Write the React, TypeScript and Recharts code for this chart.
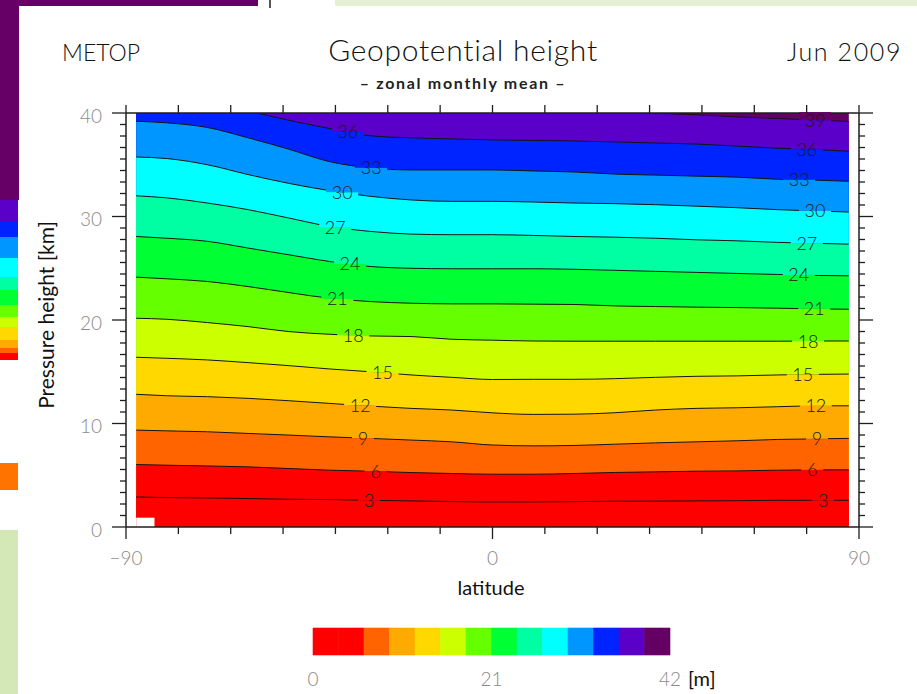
import React from 'react';
import {
  ComposedChart,
  Area,
  XAxis,
  YAxis,
  ReferenceDot,
  ReferenceArea,
  BarChart,
  Bar,
} from 'recharts';

// latitude grid (deg)
const LATITUDES = [-87.5, -80, -70, -60, -50, -40, -30, -20, -10, 0, 10, 20, 30, 40, 50, 60, 70, 80, 87.5];

// pressure height [km] of each geopotential contour along the grid
const Z3 = [2.9, 2.84, 2.81, 2.75, 2.68, 2.65, 2.58, 2.52, 2.46, 2.42, 2.43, 2.45, 2.49, 2.5, 2.52, 2.54, 2.58, 2.58, 2.58];
const Z6 = [6.04, 5.97, 5.9, 5.81, 5.65, 5.49, 5.39, 5.26, 5.17, 5.1, 5.1, 5.17, 5.27, 5.33, 5.39, 5.42, 5.49, 5.52, 5.52];
const Z9 = [9.36, 9.29, 9.2, 9.04, 8.88, 8.71, 8.56, 8.4, 8.23, 7.92, 7.84, 7.88, 8.0, 8.13, 8.23, 8.33, 8.46, 8.52, 8.56];
const Z12 = [12.82, 12.68, 12.59, 12.43, 12.2, 11.94, 11.68, 11.46, 11.3, 11.03, 10.88, 10.9, 11.04, 11.3, 11.46, 11.52, 11.62, 11.71, 11.71];
const Z15 = [16.4, 16.3, 16.14, 15.88, 15.59, 15.27, 15.0, 14.69, 14.46, 14.25, 14.27, 14.27, 14.33, 14.46, 14.56, 14.6, 14.69, 14.75, 14.78];
const Z18 = [20.17, 20.07, 19.75, 19.36, 18.88, 18.62, 18.46, 18.4, 18.14, 18.05, 17.97, 17.95, 17.95, 17.95, 17.95, 17.95, 17.95, 17.97, 17.97];
const Z21 = [24.14, 23.98, 23.72, 23.23, 22.65, 22.1, 21.78, 21.62, 21.56, 21.56, 21.53, 21.5, 21.36, 21.3, 21.24, 21.2, 21.14, 21.07, 21.04];
const Z24 = [28.07, 27.9, 27.6, 26.95, 26.3, 25.65, 25.17, 25.0, 24.95, 24.95, 24.95, 24.9, 24.8, 24.7, 24.6, 24.5, 24.4, 24.3, 24.27];
const Z27 = [32.0, 31.8, 31.3, 30.66, 29.85, 29.04, 28.56, 28.3, 28.24, 28.24, 28.17, 28.07, 28.0, 27.9, 27.75, 27.65, 27.5, 27.4, 27.33];
const Z30 = [35.75, 35.6, 35.0, 34.05, 33.2, 32.5, 31.95, 31.6, 31.46, 31.46, 31.4, 31.3, 31.24, 31.14, 31.0, 30.85, 30.66, 30.53, 30.43];
const Z33 = [39.2, 39.05, 38.6, 37.6, 36.5, 35.3, 34.7, 34.5, 34.5, 34.5, 34.4, 34.3, 34.1, 34.0, 33.9, 33.8, 33.6, 33.5, 33.4];
const Z36 = [42.0, 41.8, 41.2, 40.2, 39.3, 38.5, 37.8, 37.6, 37.5, 37.4, 37.35, 37.3, 37.2, 37.1, 37.0, 36.8, 36.6, 36.45, 36.3];
const Z39 = [44.5, 44.5, 44.2, 43.6, 43.0, 42.4, 41.9, 41.5, 41.1, 40.8, 40.6, 40.4, 40.15, 39.97, 39.83, 39.63, 39.47, 39.3, 39.18];

const LEVELS = [3, 6, 9, 12, 15, 18, 21, 24, 27, 30, 33, 36, 39];
const CONTOURS = [Z3, Z6, Z9, Z12, Z15, Z18, Z21, Z24, Z27, Z30, Z33, Z36, Z39];

// where each level gets its inline label (deg latitude), west and east
const LABEL_LAT_WEST = [-30.3, -28.7, -31.8, -32.5, -27, -34.2, -38.1, -35, -38.6, -36.9, -29.8, -35.5, null];
const LABEL_LAT_EAST = [81.2, 78.5, 79.7, 79.4, 76.2, 77.5, 79, 75.2, 77.2, 79.2, 75.3, 77.2, 79.2];

// colour of each 3 m band, 0-3 up to 39-42
const BAND_EDGES = [0, 3, 6, 9, 12, 15, 18, 21, 24, 27, 30, 33, 36, 39, 42];
const BAND_COLORS = [
  '#ff0000', '#ff0000', '#ff6400', '#ffaa00', '#ffd800', '#ccff00', '#66ff00',
  '#00ff33', '#00ffa2', '#00ffff', '#0096ff', '#0024ff', '#5a00c8', '#640064',
];

const GRID_TOP = 40;
// no data over the antarctic surface
const SURFACE_LAT = [-87.5, -83];
const SURFACE_HEIGHT = 0.9;

const X_TICKS = [-90, 0, 90];
const Y_TICKS = [0, 10, 20, 30, 40];
const COLORBAR_TICKS = [0, 21, 42];
const X_MINOR = Array.from({ length: 15 }, (_, k) => -90 + (k * 180) / 14);
const Y_MINOR = Array.from({ length: 37 }, (_, k) => (k * 40) / 36);

const FONT = "Lato, 'DejaVu Sans', sans-serif";
const AXIS = '#1e1e1e';
const TICK_TEXT = '#8a8a8a';

const rows = LATITUDES.map((lat, i) => {
  const row: Record<string, number> = { lat, top: GRID_TOP };
  LEVELS.forEach((lv, j) => {
    row[`z${lv}`] = CONTOURS[j][i];
  });
  return row;
});

const colorbarRow: Record<string, number | string> = { name: 'scale' };
BAND_COLORS.forEach((_, i) => {
  colorbarRow[`b${i}`] = BAND_EDGES[i + 1] - BAND_EDGES[i];
});

const heightAt = (z: number[], lat: number) => {
  let i = 0;
  while (i < LATITUDES.length - 2 && lat > LATITUDES[i + 1]) i++;
  const t = (lat - LATITUDES[i]) / (LATITUDES[i + 1] - LATITUDES[i]);
  return z[i] + t * (z[i + 1] - z[i]);
};

const isMajor = (v: number, majors: number[]) => majors.some((m) => Math.abs(m - v) < 1e-6);
const fmtLat = (v: number) => (v < 0 ? `\u2212${Math.abs(v)}` : `${v}`);

const BottomTick = (p: any) => {
  const { x, y, payload } = p;
  const major = isMajor(payload.value, X_TICKS);
  return (
    <g>
      <line x1={x} x2={x} y1={y} y2={y + (major ? 12 : 7)} stroke={AXIS} strokeWidth={1.3} />
      {major && (
        <text x={x} y={y + 38} textAnchor="middle" fontFamily={FONT} fontSize={19} fontWeight={300} fill={TICK_TEXT}>
          {fmtLat(Math.round(payload.value))}
        </text>
      )}
    </g>
  );
};

const TopTick = (p: any) => {
  const { x, y } = p;
  return <line x1={x} x2={x} y1={y} y2={y - 8} stroke={AXIS} strokeWidth={1.3} />;
};

const LeftTick = (p: any) => {
  const { x, y, payload } = p;
  const major = isMajor(payload.value, Y_TICKS);
  return (
    <g>
      <line x1={x} x2={x - (major ? 14 : 6)} y1={y} y2={y} stroke={AXIS} strokeWidth={1.3} />
      {major && (
        <text x={x - 24} y={y + 3} dy="0.36em" textAnchor="end" fontFamily={FONT} fontSize={19} fontWeight={300} fill={TICK_TEXT}>
          {Math.round(payload.value)}
        </text>
      )}
    </g>
  );
};

const RightTick = (p: any) => {
  const { x, y, payload } = p;
  const major = isMajor(payload.value, Y_TICKS);
  return <line x1={x} x2={x + (major ? 14 : 6)} y1={y} y2={y} stroke={AXIS} strokeWidth={1.3} />;
};

const ColorbarTick = (p: any) => {
  const { x, y, payload } = p;
  return (
    <text x={x} y={y + 31} textAnchor="middle" fontFamily={FONT} fontSize={19} fontWeight={300} fill={TICK_TEXT}>
      {payload.value}
    </text>
  );
};

// level label sitting in a break of the contour line
const ContourLabel = (p: any) => {
  const { cx, cy, text, above, below } = p;
  const w = text.length * 10 + 12;
  return (
    <g>
      <rect x={cx - w / 2} y={cy - 8} width={w} height={8} fill={above} />
      <rect x={cx - w / 2} y={cy} width={w} height={8} fill={below} />
      <text x={cx} y={cy} dy="0.36em" textAnchor="middle" fontFamily={FONT} fontSize={18} fontWeight={300} fill="#1a1a1a">
        {text}
      </text>
    </g>
  );
};

const labelDots = () => {
  const out: React.ReactNode[] = [];
  LEVELS.forEach((lv, j) => {
    [LABEL_LAT_WEST[j], LABEL_LAT_EAST[j]].forEach((lat, side) => {
      if (lat === null) return;
      out.push(
        <ReferenceDot
          key={`lab-${lv}-${side}`}
          xAxisId="b"
          yAxisId="l"
          x={lat}
          y={heightAt(CONTOURS[j], lat)}
          r={0}
          ifOverflow="visible"
          shape={(sp: any) => (
            <ContourLabel cx={sp.cx} cy={sp.cy} text={`${lv}`} above={BAND_COLORS[j + 1]} below={BAND_COLORS[j]} />
          )}
        />
      );
    });
  });
  return out;
};

const block = (left: number, top: number, width: number, height: number, background: string) => (
  <div style={{ position: 'absolute', left, top, width, height, background }} />
);

export default function App() {
  // contours drawn top-down, each filled to the ground with the band below it
  const descending = LEVELS.map((lv, j) => ({ lv, j })).reverse();

  return (
    <div style={{ position: 'absolute', left: 0, top: 0, width: 917, height: 694, overflow: 'hidden', background: '#fff' }}>
      {/* slides stacked behind the figure */}
      {block(0, 0, 258, 6, '#660066')}
      {block(0, 0, 19, 200, '#660066')}
      {block(0, 200, 18, 22, '#5a00c8')}
      {block(0, 222, 18, 15, '#0024ff')}
      {block(0, 237, 18, 21, '#0096ff')}
      {block(0, 258, 18, 19, '#00ffff')}
      {block(0, 277, 18, 13, '#00ffa2')}
      {block(0, 290, 18, 15, '#00ff33')}
      {block(0, 305, 18, 12, '#66ff00')}
      {block(0, 317, 18, 10, '#ccff00')}
      {block(0, 327, 18, 13, '#ffd800')}
      {block(0, 340, 18, 8, '#ffaa00')}
      {block(0, 348, 18, 5, '#ff6400')}
      {block(0, 353, 18, 7, '#ff0000')}
      {block(0, 463, 18, 27, '#ff7400')}
      {block(0, 530, 18, 164, '#d3e8b6')}
      {block(335, 0, 582, 6, '#e3f0d4')}
      {block(269, 0, 2, 8, '#555')}

      <div style={{ position: 'absolute', left: 0, top: 0 }}>
        <ComposedChart width={917} height={694} data={rows} margin={{ top: 112, right: 57, bottom: 166, left: 125 }}>
          <XAxis
            xAxisId="b"
            type="number"
            dataKey="lat"
            domain={[-90, 90]}
            ticks={X_MINOR}
            interval={0}
            height={1}
            tickSize={0}
            tickMargin={0}
            tickLine={false}
            axisLine={{ stroke: AXIS, strokeWidth: 1.5 }}
            tick={(p: any) => <BottomTick {...p} />}
            allowDataOverflow
          />
          <XAxis
            xAxisId="t"
            orientation="top"
            type="number"
            dataKey="lat"
            domain={[-90, 90]}
            ticks={X_MINOR}
            interval={0}
            height={1}
            tickSize={0}
            tickMargin={0}
            tickLine={false}
            axisLine={{ stroke: AXIS, strokeWidth: 1.5 }}
            tick={(p: any) => <TopTick {...p} />}
            allowDataOverflow
          />
          <YAxis
            yAxisId="l"
            type="number"
            domain={[0, 40]}
            ticks={Y_MINOR}
            interval={0}
            width={1}
            tickSize={0}
            tickMargin={0}
            tickLine={false}
            axisLine={{ stroke: AXIS, strokeWidth: 1.5 }}
            tick={(p: any) => <LeftTick {...p} />}
            allowDataOverflow
          />
          <YAxis
            yAxisId="r"
            orientation="right"
            type="number"
            domain={[0, 40]}
            ticks={Y_MINOR}
            interval={0}
            width={1}
            tickSize={0}
            tickMargin={0}
            tickLine={false}
            axisLine={{ stroke: AXIS, strokeWidth: 1.5 }}
            tick={(p: any) => <RightTick {...p} />}
            allowDataOverflow
          />

          <Area
            xAxisId="t"
            yAxisId="r"
            type="linear"
            dataKey="top"
            stroke="none"
            fill={BAND_COLORS[13]}
            fillOpacity={1}
            dot={false}
            activeDot={false}
            isAnimationActive={false}
          />
          {descending.map(({ lv, j }) => (
            <Area
              key={lv}
              xAxisId="b"
              yAxisId="l"
              type="monotone"
              dataKey={`z${lv}`}
              stroke="#141414"
              strokeWidth={1}
              fill={BAND_COLORS[j]}
              fillOpacity={1}
              dot={false}
              activeDot={false}
              isAnimationActive={false}
            />
          ))}
          <ReferenceArea
            xAxisId="b"
            yAxisId="l"
            x1={SURFACE_LAT[0]}
            x2={SURFACE_LAT[1]}
            y1={0}
            y2={SURFACE_HEIGHT}
            fill="#fff"
            fillOpacity={1}
            stroke="none"
          />
          {labelDots()}
        </ComposedChart>
      </div>

      <div style={{ position: 'absolute', left: 283, top: 620 }}>
        <BarChart
          width={420}
          height={74}
          layout="vertical"
          data={[colorbarRow]}
          barCategoryGap={0}
          margin={{ top: 8, right: 33, bottom: 38, left: 30 }}
        >
          <XAxis
            type="number"
            domain={[0, 42]}
            ticks={COLORBAR_TICKS}
            interval={0}
            height={1}
            tickSize={0}
            tickMargin={0}
            tickLine={false}
            axisLine={false}
            tick={(p: any) => <ColorbarTick {...p} />}
          />
          <YAxis type="category" dataKey="name" hide />
          {BAND_COLORS.map((c, i) => (
            <Bar key={i} dataKey={`b${i}`} stackId="cb" fill={c} stroke={c} strokeWidth={0.6} isAnimationActive={false} />
          ))}
        </BarChart>
      </div>

      <svg width={917} height={694} style={{ position: 'absolute', left: 0, top: 0, pointerEvents: 'none' }}>
        <text x={62} y={61} fontFamily={FONT} fontSize={23} fontWeight={300} fill="#111">METOP</text>
        <text x={463} y={61} textAnchor="middle" fontFamily={FONT} fontSize={30} fontWeight={300} letterSpacing={0.7} fill="#111">
          Geopotential height
        </text>
        <text x={902} y={61} textAnchor="end" fontFamily={FONT} fontSize={25} fontWeight={300} letterSpacing={1.6} fill="#111">
          Jun 2009
        </text>
        <text x={463} y={89} textAnchor="middle" fontFamily={FONT} fontSize={16} fontWeight={700} letterSpacing={1.7} fill="#222">
          {'\u2013 zonal monthly mean \u2013'}
        </text>
        <text
          x={0}
          y={0}
          transform="translate(54 315) rotate(-90)"
          textAnchor="middle"
          fontFamily={FONT}
          fontSize={21}
          fill="#111"
        >
          Pressure height [km]
        </text>
        <text x={491} y={595} textAnchor="middle" fontFamily={FONT} fontSize={20} fill="#111">latitude</text>
        <text x={688} y={686} fontFamily={FONT} fontSize={20} fill="#111">[m]</text>
      </svg>
    </div>
  );
}
